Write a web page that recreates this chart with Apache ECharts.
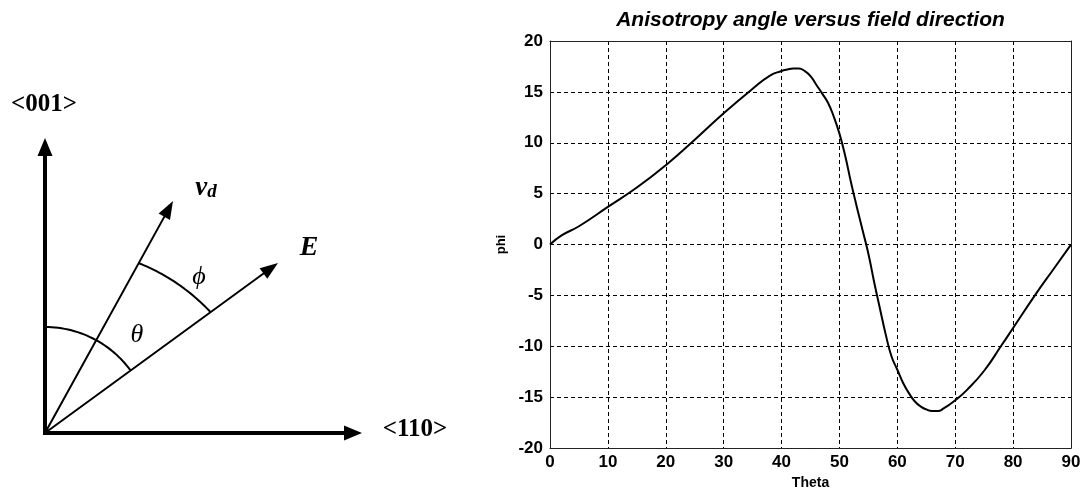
<!DOCTYPE html>
<html>
<head>
<meta charset="utf-8">
<title>Anisotropy angle versus field direction</title>
<script src="https://cdn.jsdelivr.net/npm/echarts@6/dist/echarts.min.js"></script>
<style>
    html, body { margin: 0; padding: 0; background: #fff; }
    #main { width: 1086px; height: 495px; }
</style>
</head>
<body>
<div id="main"></div>
<script>
// curve (degrees)
var theta = [0, 2, 5, 10, 15, 20, 25, 30, 35, 38, 40, 41, 42, 43, 44, 45, 46, 47, 48, 49,
    50, 51, 52, 53, 54, 55, 56, 57, 58, 59, 60, 61, 62, 63, 64, 65, 66, 67, 68, 70,
    72, 75, 78, 80, 84, 87, 90];
var phi = [0, 0.9, 1.8, 3.7, 5.6, 7.8, 10.3, 12.9, 15.3, 16.6, 17.05, 17.2, 17.3, 17.3, 17.05, 16.55, 15.7, 14.85, 13.95, 12.6,
    10.9, 8.7, 6.1, 3.7, 1.4, -0.9, -3.7, -6.3, -8.85, -11.0, -12.3, -13.6, -14.6, -15.4, -15.9, -16.2, -16.35, -16.35, -16.1, -15.3,
    -14.3, -12.4, -9.9, -8.2, -4.8, -2.4, 0];
var thetaRange = [0, 90, 10];   // min, max, step
var phiRange = [-20, 20, 5];

// sketch on the left: pixel units, origin at the corner of the two axes, y up
var tipUp = [0, 295];      // <001>
var tipRight = [317, 0];   // <110>
var tipVd = [128, 232];
var tipE = [233, 170];
var axisHead = [15, 18];   // arrow head width, length
var thinHead = [13, 18];

var sketchLabels = [
    // text, x, y, kind
    ['<001>', -1, 328, 'dir'],
    ['<110>', 370, 3, 'dir'],
    ['{v|v}{d|d}', 161, 245, 'vd'],
    ['E', 264, 185, 'vec'],
    ['\u03b8', 92, 98, 'ang'],
    ['\u03d5', 154, 156, 'ang']
];

function angleOf(p) { return Math.atan2(p[1], p[0]); }
function shaftEnd(p, len) {
    var a = angleOf(p);
    return [p[0] - len / 2 * Math.cos(a), p[1] - len / 2 * Math.sin(a)];
}
function arcPoints(from, to, r0, r1) {
    var a0 = angleOf(from), a1 = angleOf(to), pts = [];
    for (var i = 0; i <= 30; i++) {
        var t = i / 30, a = a0 + (a1 - a0) * t, r = r0 + (r1 - r0) * t;
        pts.push([r * Math.cos(a), r * Math.sin(a)]);
    }
    return pts;
}
function head(p, size) {
    return {
        value: shaftEnd(p, size[1]),
        symbolSize: size,
        symbolRotate: angleOf(p) * 180 / Math.PI - 90
    };
}

var serif = "'Liberation Serif', 'Times New Roman', 'DejaVu Serif', serif";
var labelStyles = {
    dir: { fontFamily: serif, fontSize: 25, fontWeight: 'bold' },
    vec: { fontFamily: serif, fontSize: 28, fontWeight: 'bold', fontStyle: 'italic' },
    ang: { fontFamily: serif, fontSize: 26, fontStyle: 'italic' },
    vd: {
        rich: {
            v: { fontFamily: serif, fontSize: 27, fontWeight: 'bold', fontStyle: 'italic', color: '#000' },
            d: { fontFamily: serif, fontSize: 19, fontWeight: 'bold', fontStyle: 'italic', color: '#000', padding: [8, 0, 0, 0] }
        }
    }
};

var sans = "'Liberation Sans', Arial, Helvetica, sans-serif";
var chart = echarts.init(document.getElementById('main'));

var frameLine = { show: true, onZero: false, lineStyle: { color: '#222', width: 1 } };
var gridDash = { show: true, lineStyle: { color: '#000', width: 1, type: [4, 3] } };

var option = {
    animation: false,
    backgroundColor: '#fff',
    grid: [
        { left: 550, right: 15, top: 41, bottom: 45 },
        { left: 0, top: 0, width: 500, height: 495 }
    ],
    xAxis: [{
        gridIndex: 0, type: 'value', min: thetaRange[0], max: thetaRange[1], interval: thetaRange[2],
        axisLine: frameLine,
        axisTick: { show: false },
        axisLabel: { color: '#000', fontFamily: sans, fontSize: 17, fontWeight: 'bold', margin: 6 },
        splitLine: gridDash,
        name: 'Theta', nameLocation: 'middle', nameGap: 24,
        nameTextStyle: { color: '#000', fontFamily: sans, fontSize: 14, fontWeight: 'bold' }
    }, {
        gridIndex: 0, type: 'value', position: 'top', min: thetaRange[0], max: thetaRange[1],
        axisLine: frameLine,
        axisTick: { show: false }, axisLabel: { show: false }, splitLine: { show: false },
        name: 'Anisotropy angle versus field direction', nameLocation: 'middle', nameGap: 10,
        nameTextStyle: { color: '#000', fontFamily: sans, fontSize: 21, fontWeight: 'bold', fontStyle: 'italic' }
    }, {
        gridIndex: 1, type: 'value', min: -45, max: 455, show: false
    }],
    yAxis: [{
        gridIndex: 0, type: 'value', min: phiRange[0], max: phiRange[1], interval: phiRange[2],
        axisLine: frameLine,
        axisTick: { show: false },
        axisLabel: { color: '#000', fontFamily: sans, fontSize: 17, fontWeight: 'bold', margin: 7 },
        splitLine: gridDash,
        name: 'phi', nameLocation: 'middle', nameGap: 42,
        nameTextStyle: { color: '#000', fontFamily: sans, fontSize: 13, fontWeight: 'bold' }
    }, {
        gridIndex: 0, type: 'value', position: 'right', min: phiRange[0], max: phiRange[1],
        axisLine: frameLine,
        axisTick: { show: false }, axisLabel: { show: false }, splitLine: { show: false }
    }, {
        gridIndex: 1, type: 'value', min: -62, max: 433, show: false
    }],
    series: [{
        name: 'phi', type: 'line', xAxisIndex: 0, yAxisIndex: 0,
        data: theta.map(function (t, i) { return [t, phi[i]]; }),
        showSymbol: false, smooth: 0.5,
        lineStyle: { color: '#000', width: 2 }
    }, {
        // the two crystal axes
        type: 'line', xAxisIndex: 2, yAxisIndex: 2, showSymbol: false, silent: true,
        data: [shaftEnd(tipUp, axisHead[1]), [0, 0], shaftEnd(tipRight, axisHead[1])],
        lineStyle: { color: '#000', width: 4, join: 'miter' }
    }, {
        // drift velocity and field
        type: 'line', xAxisIndex: 2, yAxisIndex: 2, showSymbol: false, silent: true,
        data: [shaftEnd(tipVd, thinHead[1]), [0, 0], shaftEnd(tipE, thinHead[1])],
        lineStyle: { color: '#000', width: 2 }
    }, {
        type: 'line', xAxisIndex: 2, yAxisIndex: 2, showSymbol: false, silent: true,
        data: arcPoints(tipUp, tipE, 106, 106),
        lineStyle: { color: '#000', width: 2 }
    }, {
        type: 'line', xAxisIndex: 2, yAxisIndex: 2, showSymbol: false, silent: true,
        data: arcPoints(tipVd, tipE, 194, 205),
        lineStyle: { color: '#000', width: 2 }
    }, {
        type: 'scatter', xAxisIndex: 2, yAxisIndex: 2, symbol: 'triangle', silent: true,
        itemStyle: { color: '#000', opacity: 1 },
        data: [head(tipUp, axisHead), head(tipRight, axisHead), head(tipVd, thinHead), head(tipE, thinHead)]
    }, {
        type: 'scatter', xAxisIndex: 2, yAxisIndex: 2, symbolSize: 2, silent: true,
        itemStyle: { color: 'rgba(0,0,0,0)', opacity: 1 },
        data: sketchLabels.map(function (l) {
            var lab = Object.assign({ show: true, position: 'inside', color: '#000', formatter: l[0] }, labelStyles[l[3]]);
            return { value: [l[1], l[2]], label: lab };
        })
    }]
};

chart.setOption(option);
</script>
</body>
</html>
